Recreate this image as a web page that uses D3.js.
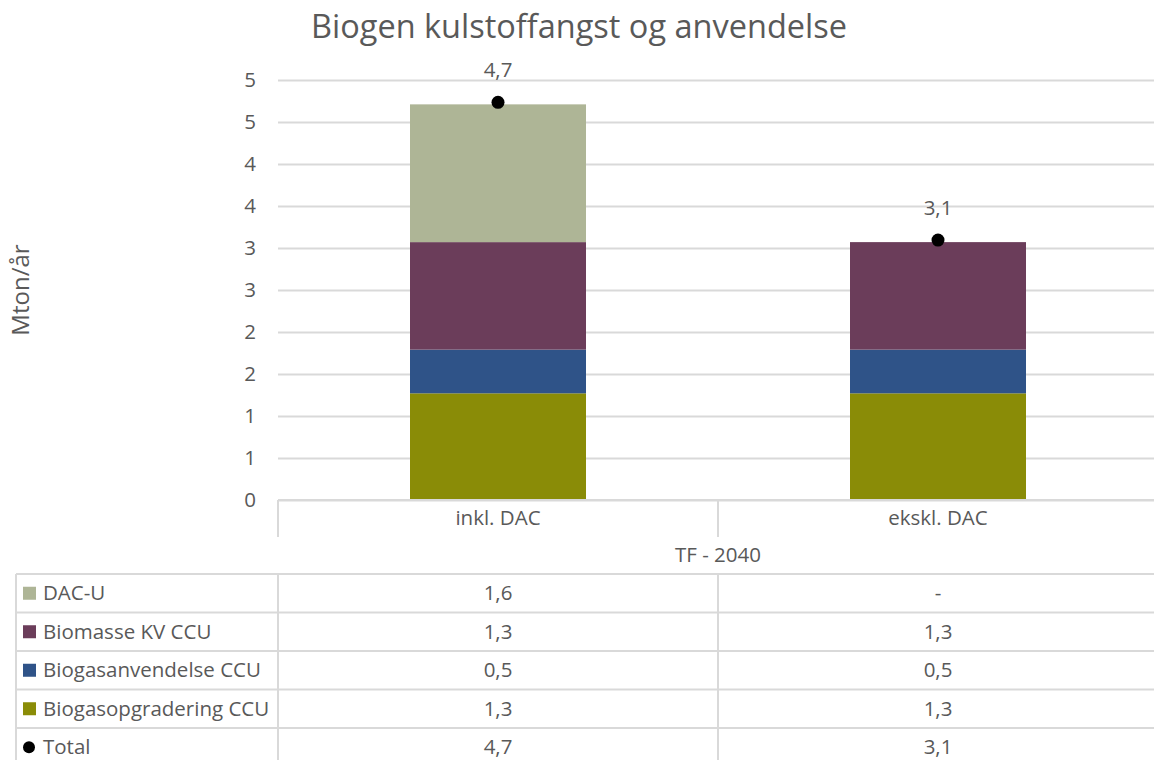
<!DOCTYPE html>
<html>
<head>
<meta charset="utf-8">
<script src="https://cdn.jsdelivr.net/npm/d3@7"></script>
<style>
  body { margin: 0; background: #fff; }
  svg { display: block; font-family: "Open Sans", Lato, sans-serif; }
</style>
</head>
<body>
<svg width="1154" height="760"></svg>
<script>
// data
var categories = ["inkl. DAC", "ekskl. DAC"];
var groupLabel = "TF - 2040";
var seriesNames = ["Biogasopgradering CCU", "Biogasanvendelse CCU", "Biomasse KV CCU", "DAC-U"];
var biogasopgradering = [1.27, 1.27];
var biogasanvendelse = [0.52, 0.52];
var biomasseKV = [1.28, 1.28];
var dacU = [1.64, 0];
var total = [4.71, 3.07];
var yTicks = [0, 0.5, 1, 1.5, 2, 2.5, 3, 3.5, 4, 4.5, 5];

var seriesValues = [biogasopgradering, biogasanvendelse, biomasseKV, dacU];
var colors = ["#8a8c07", "#2f5388", "#6b3d5a", "#aeb596"];
var textColor = "#595959", lineColor = "#d9d9d9";
var fs = 20.5;

var svg = d3.select("svg"),
    plotLeft = 278, plotRight = 1158, plotTop = 80, plotBottom = 500;

var locale = d3.formatLocale({decimal: ",", thousands: ".", grouping: [3], currency: ["", " kr"]});
var fmt = locale.format(".1f");

// one object per category for the stack
var rows = categories.map(function(c, i) {
  var r = {cat: c};
  seriesNames.forEach(function(s, j) { r[s] = seriesValues[j][i]; });
  return r;
});

var x = d3.scaleBand()
    .domain(categories)
    .range([plotLeft, plotRight])
    .paddingInner(0.6)
    .paddingOuter(0.3);

var y = d3.scaleLinear()
    .domain([0, 5])
    .range([plotBottom, plotTop]);

// title
svg.append("text")
    .attr("x", 579)
    .attr("y", 38)
    .attr("text-anchor", "middle")
    .attr("font-size", 32.5)
    .attr("fill", textColor)
    .text("Biogen kulstoffangst og anvendelse");

// y axis title
svg.append("text")
    .attr("transform", "translate(29," + ((plotTop + plotBottom) / 2) + ") rotate(-90)")
    .attr("text-anchor", "middle")
    .attr("font-size", 24)
    .attr("fill", textColor)
    .text("Mton/år");

// gridlines + tick labels
var yAxis = svg.append("g")
    .attr("transform", "translate(" + plotLeft + ",0)")
    .call(d3.axisLeft(y).tickValues(yTicks)
      .tickFormat(function(d) { return Math.round(d); })
      .tickSize(-(plotRight - plotLeft)).tickPadding(22));
yAxis.select(".domain").remove();
yAxis.selectAll("line").attr("stroke", lineColor).attr("stroke-width", 1.8);
yAxis.selectAll("text").attr("fill", textColor).attr("font-size", fs)
    .attr("font-family", "'Open Sans', sans-serif");

// stacked bars
var stack = d3.stack().keys(seriesNames)(rows);

svg.append("g")
  .selectAll("g")
  .data(stack)
  .enter().append("g")
    .attr("fill", function(d, i) { return colors[i]; })
  .selectAll("rect")
  .data(function(d) { return d; })
  .enter().append("rect")
    .attr("x", function(d) { return x(d.data.cat); })
    .attr("y", function(d) { return y(d[1]); })
    .attr("width", x.bandwidth())
    .attr("height", function(d) { return y(d[0]) - y(d[1]); });

// total markers and labels
var totals = svg.append("g")
  .selectAll("g")
  .data(categories)
  .enter().append("g");

totals.append("circle")
    .attr("cx", function(d) { return x(d) + x.bandwidth() / 2; })
    .attr("cy", function(d, i) { return y(total[i]) - 2; })
    .attr("r", 6.5)
    .attr("fill", "#000");

totals.append("text")
    .attr("x", function(d) { return x(d) + x.bandwidth() / 2; })
    .attr("y", function(d, i) { return y(total[i]) - 27; })
    .attr("text-anchor", "middle")
    .attr("font-size", fs)
    .attr("fill", textColor)
    .text(function(d, i) { return fmt(total[i]); });

// data table under the chart
var tableLeft = 16, catRowBottom = 537, groupRowBottom = 574, rowH = 38.5;
var outer = x.paddingOuter() * x.step();
var cellEdges = categories.map(function(c) { return x(c) - outer; });
cellEdges.push(plotRight);

var tableRows = seriesNames.slice().reverse().map(function(s) {
  var k = seriesNames.indexOf(s);
  return {name: s, color: colors[k], values: seriesValues[k]};
});
tableRows.push({name: "Total", color: "#000", values: total, dot: true});

var tbl = svg.append("g")
    .attr("stroke", lineColor)
    .attr("stroke-width", 2);

// top border of the category row
tbl.append("line").attr("x1", plotLeft).attr("x2", plotRight).attr("y1", plotBottom).attr("y2", plotBottom);
// vertical dividers in the category row
cellEdges.forEach(function(e) {
  tbl.append("line").attr("x1", e).attr("x2", e).attr("y1", plotBottom).attr("y2", catRowBottom);
});
// horizontal lines of the value rows
tableRows.forEach(function(r, i) {
  var yy = groupRowBottom + i * rowH;
  tbl.append("line").attr("x1", tableLeft).attr("x2", plotRight).attr("y1", yy).attr("y2", yy);
});
// vertical lines of the value rows
[tableLeft].concat(cellEdges).forEach(function(e) {
  tbl.append("line").attr("x1", e).attr("x2", e)
    .attr("y1", groupRowBottom).attr("y2", groupRowBottom + tableRows.length * rowH + 5);
});

var txt = svg.append("g")
    .attr("fill", textColor)
    .attr("font-size", fs);

categories.forEach(function(c) {
  txt.append("text")
      .attr("x", x(c) + x.bandwidth() / 2)
      .attr("y", 518)
      .attr("dy", "0.35em")
      .attr("text-anchor", "middle")
      .text(c);
});

txt.append("text")
    .attr("x", (plotLeft + plotRight) / 2)
    .attr("y", 555)
    .attr("dy", "0.35em")
    .attr("text-anchor", "middle")
    .text(groupLabel);

tableRows.forEach(function(r, i) {
  var cy = groupRowBottom + i * rowH + rowH / 2;
  if (r.dot) {
    svg.append("circle").attr("cx", 29).attr("cy", cy).attr("r", 6).attr("fill", r.color);
  } else {
    svg.append("rect").attr("x", 23).attr("y", cy - 6.5).attr("width", 13).attr("height", 13).attr("fill", r.color);
  }
  txt.append("text")
      .attr("x", 43)
      .attr("y", cy)
      .attr("dy", "0.35em")
      .text(r.name);
  categories.forEach(function(c, j) {
    txt.append("text")
        .attr("x", x(c) + x.bandwidth() / 2)
        .attr("y", cy)
        .attr("dy", "0.35em")
        .attr("text-anchor", "middle")
        .text(r.values[j] === 0 ? "-" : fmt(r.values[j]));
  });
});
</script>
</body>
</html>
